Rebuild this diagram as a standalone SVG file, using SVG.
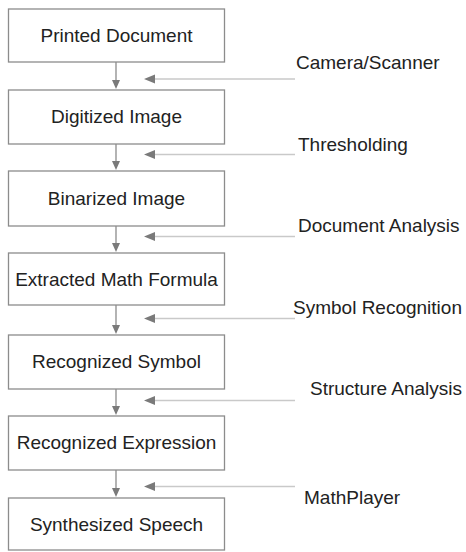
<svg xmlns="http://www.w3.org/2000/svg" width="466" height="552" viewBox="0 0 466 552">
  <style>
    .box rect { fill: #ffffff; stroke: #8c8c8c; stroke-width: 1.3; }
    .box text { font-family: "Liberation Sans", Arial, sans-serif; font-size: 19px; fill: #222222; text-anchor: middle; }
    .lbl { font-family: "Liberation Sans", Arial, sans-serif; font-size: 19px; fill: #222222; }
    .down { stroke: #8c8c8c; stroke-width: 1.3; fill: none; }
    .side { stroke: #c9c9c9; stroke-width: 1.3; fill: none; }
    .head { fill: #7a7a7a; }
  </style>
  <rect width="466" height="552" fill="#ffffff"/>

  <!-- process stages -->
  <g id="printed-document" class="box"><rect x="8.5" y="9" width="216" height="53"/><text x="116.5" y="42">Printed Document</text></g>
  <g id="digitized-image" class="box"><rect x="8.5" y="90" width="216" height="54"/><text x="116.5" y="123">Digitized Image</text></g>
  <g id="binarized-image" class="box"><rect x="8.5" y="171" width="216" height="55"/><text x="116.5" y="205">Binarized Image</text></g>
  <g id="extracted-math-formula" class="box"><rect x="8.5" y="253" width="216" height="52"/><text x="116.5" y="286">Extracted Math Formula</text></g>
  <g id="recognized-symbol" class="box"><rect x="8.5" y="335" width="216" height="54"/><text x="116.5" y="368">Recognized Symbol</text></g>
  <g id="recognized-expression" class="box"><rect x="8.5" y="416" width="216" height="54"/><text x="116.5" y="449">Recognized Expression</text></g>
  <g id="synthesized-speech" class="box"><rect x="8.5" y="498" width="216" height="52"/><text x="116.5" y="531">Synthesized Speech</text></g>

  <!-- connectors: stage-to-stage arrows and operation arrows -->
  <g id="connectors">
    <path class="down" d="M116,62 V81 M116,144 V162 M116,226 V244 M116,305 V326 M116,389 V407 M116,470 V489"/>
    <path class="head" d="M112,80 L120,80 L116,89 Z M112,161 L120,161 L116,170 Z M112,243 L120,243 L116,252 Z M112,325 L120,325 L116,334 Z M112,406 L120,406 L116,415 Z M112,488 L120,488 L116,497 Z"/>

    <path class="side" d="M154,79 H295 M154,154.5 H295 M154,236.5 H295 M154,318.5 H295 M154,400.5 H295 M154,486.5 H295"/>
    <path class="head" d="M144,79 L155,74.5 L155,83.5 Z M144,154.5 L155,150 L155,159 Z M144,236.5 L155,232 L155,241 Z M144,318.5 L155,314 L155,323 Z M144,400.5 L155,396 L155,405 Z M144,486.5 L155,482 L155,491 Z"/>
  </g>

  <!-- operation labels -->
  <g id="labels">
    <text class="lbl" x="296" y="68.5">Camera/Scanner</text>
    <text class="lbl" x="298" y="150.5">Thresholding</text>
    <text class="lbl" x="298" y="231.5">Document Analysis</text>
    <text class="lbl" x="293" y="313.5">Symbol Recognition</text>
    <text class="lbl" x="310" y="395">Structure Analysis</text>
    <text class="lbl" x="304" y="504">MathPlayer</text>
  </g>
</svg>
